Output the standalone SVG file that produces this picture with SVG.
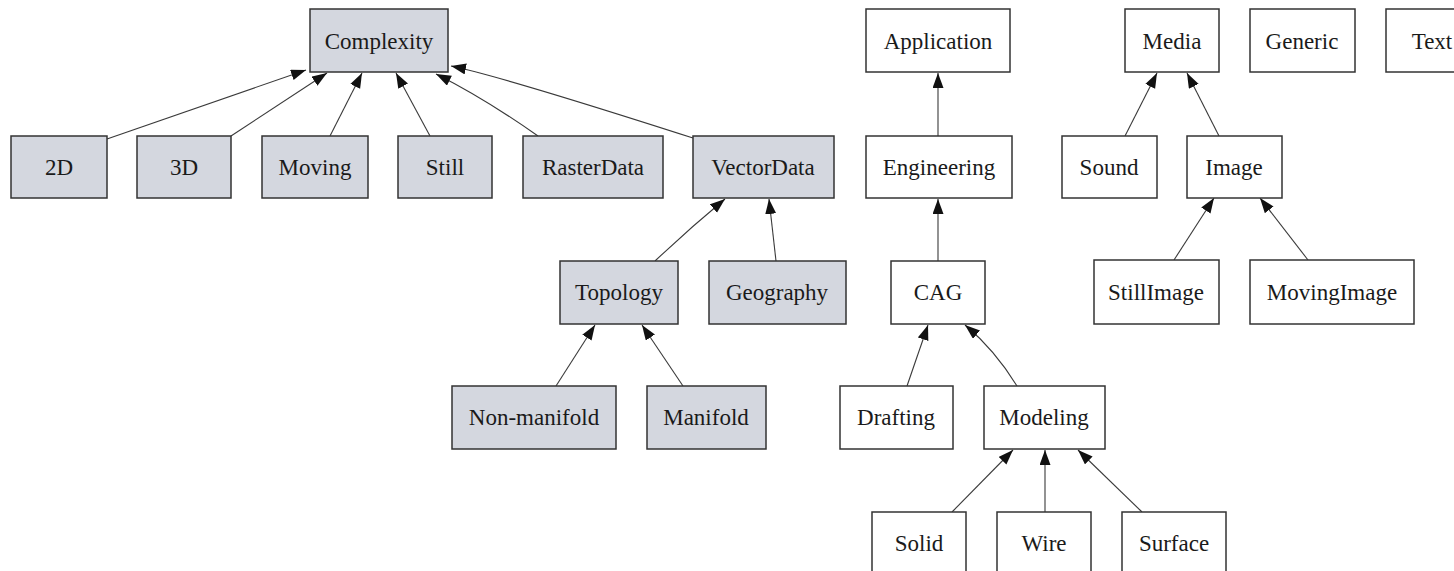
<svg xmlns="http://www.w3.org/2000/svg" width="1454" height="571" viewBox="0 0 1454 571">
  <style>
    .box { stroke: #333333; stroke-width: 1.5; }
    .gray { fill: #d4d7df; }
    .white { fill: #ffffff; }
    .label { font-family: "Liberation Serif", "Times New Roman", serif; font-size: 23px; fill: #1a1a1a; text-anchor: middle; }
    .edge { fill: none; stroke: #3a3a3a; stroke-width: 1.1; marker-end: url(#head); }
  </style>
  <defs>
    <marker id="head" markerUnits="userSpaceOnUse" markerWidth="16" markerHeight="12" refX="15" refY="5.5" orient="auto">
      <path d="M0,0 L15,5.5 L0,11 z" fill="#111"/>
    </marker>
  </defs>
  <rect width="1454" height="571" fill="#ffffff"/>

  <!-- connectors: child -> parent -->
  <g id="connectors">
    <path class="edge" d="M107,139 L306,70"/>
    <path class="edge" d="M231,136 L327,73"/>
    <path class="edge" d="M330,136 L362,73"/>
    <path class="edge" d="M430,136 L396,73"/>
    <path class="edge" d="M538,136 Q484,98 436,74"/>
    <path class="edge" d="M693,138 Q500,76 451,66"/>
    <path class="edge" d="M655,261 Q690,228 725,199"/>
    <path class="edge" d="M776,261 L769,199"/>
    <path class="edge" d="M556,386 L595,325"/>
    <path class="edge" d="M683,386 L642,325"/>
    <path class="edge" d="M938,136 L938,73"/>
    <path class="edge" d="M938,261 L938,199"/>
    <path class="edge" d="M907,386 L928,325"/>
    <path class="edge" d="M1017,386 Q995,350 965,325"/>
    <path class="edge" d="M952,512 L1013,450"/>
    <path class="edge" d="M1045,512 L1045,450"/>
    <path class="edge" d="M1142,512 L1078,450"/>
    <path class="edge" d="M1125,136 L1157,73"/>
    <path class="edge" d="M1219,136 L1187,73"/>
    <path class="edge" d="M1174,260 L1214,198"/>
    <path class="edge" d="M1308,260 L1260,198"/>
  </g>

  <g id="Complexity"><rect class="box gray" x="310" y="9" width="138" height="63"/><text class="label" x="379" y="49">Complexity</text></g>
  <g id="n2D"><rect class="box gray" x="11" y="136" width="96" height="62"/><text class="label" x="59" y="175">2D</text></g>
  <g id="n3D"><rect class="box gray" x="137" y="136" width="94" height="62"/><text class="label" x="184" y="175">3D</text></g>
  <g id="Moving"><rect class="box gray" x="262" y="136" width="106" height="62"/><text class="label" x="315" y="175">Moving</text></g>
  <g id="Still"><rect class="box gray" x="398" y="136" width="94" height="62"/><text class="label" x="445" y="175">Still</text></g>
  <g id="RasterData"><rect class="box gray" x="523" y="136" width="140" height="62"/><text class="label" x="593" y="175">RasterData</text></g>
  <g id="VectorData"><rect class="box gray" x="693" y="136" width="141" height="62"/><text class="label" x="763" y="175">VectorData</text></g>
  <g id="Topology"><rect class="box gray" x="560" y="261" width="118" height="63"/><text class="label" x="619" y="300">Topology</text></g>
  <g id="Geography"><rect class="box gray" x="709" y="261" width="137" height="63"/><text class="label" x="777" y="300">Geography</text></g>
  <g id="Non-manifold"><rect class="box gray" x="452" y="386" width="164" height="63"/><text class="label" x="534" y="425">Non-manifold</text></g>
  <g id="Manifold"><rect class="box gray" x="647" y="386" width="119" height="63"/><text class="label" x="706" y="425">Manifold</text></g>

  <g id="Application"><rect class="box white" x="866" y="9" width="144" height="63"/><text class="label" x="938" y="49">Application</text></g>
  <g id="Engineering"><rect class="box white" x="866" y="136" width="146" height="62"/><text class="label" x="939" y="175">Engineering</text></g>
  <g id="CAG"><rect class="box white" x="891" y="261" width="94" height="63"/><text class="label" x="938" y="300">CAG</text></g>
  <g id="Drafting"><rect class="box white" x="840" y="386" width="113" height="63"/><text class="label" x="896" y="425">Drafting</text></g>
  <g id="Modeling"><rect class="box white" x="984" y="386" width="121" height="63"/><text class="label" x="1044" y="425">Modeling</text></g>
  <g id="Solid"><rect class="box white" x="872" y="512" width="94" height="70"/><text class="label" x="919" y="551">Solid</text></g>
  <g id="Wire"><rect class="box white" x="997" y="512" width="94" height="70"/><text class="label" x="1044" y="551">Wire</text></g>
  <g id="Surface"><rect class="box white" x="1122" y="512" width="104" height="70"/><text class="label" x="1174" y="551">Surface</text></g>

  <g id="Media"><rect class="box white" x="1125" y="9" width="94" height="63"/><text class="label" x="1172" y="49">Media</text></g>
  <g id="Generic"><rect class="box white" x="1250" y="9" width="105" height="63"/><text class="label" x="1302" y="49">Generic</text></g>
  <g id="Text"><rect class="box white" x="1386" y="9" width="92" height="63"/><text class="label" x="1432" y="49">Text</text></g>
  <g id="Sound"><rect class="box white" x="1062" y="136" width="95" height="62"/><text class="label" x="1109" y="175">Sound</text></g>
  <g id="Image"><rect class="box white" x="1187" y="136" width="95" height="62"/><text class="label" x="1234" y="175">Image</text></g>
  <g id="StillImage"><rect class="box white" x="1094" y="260" width="125" height="64"/><text class="label" x="1156" y="300">StillImage</text></g>
  <g id="MovingImage"><rect class="box white" x="1250" y="260" width="164" height="64"/><text class="label" x="1332" y="300">MovingImage</text></g>
</svg>
